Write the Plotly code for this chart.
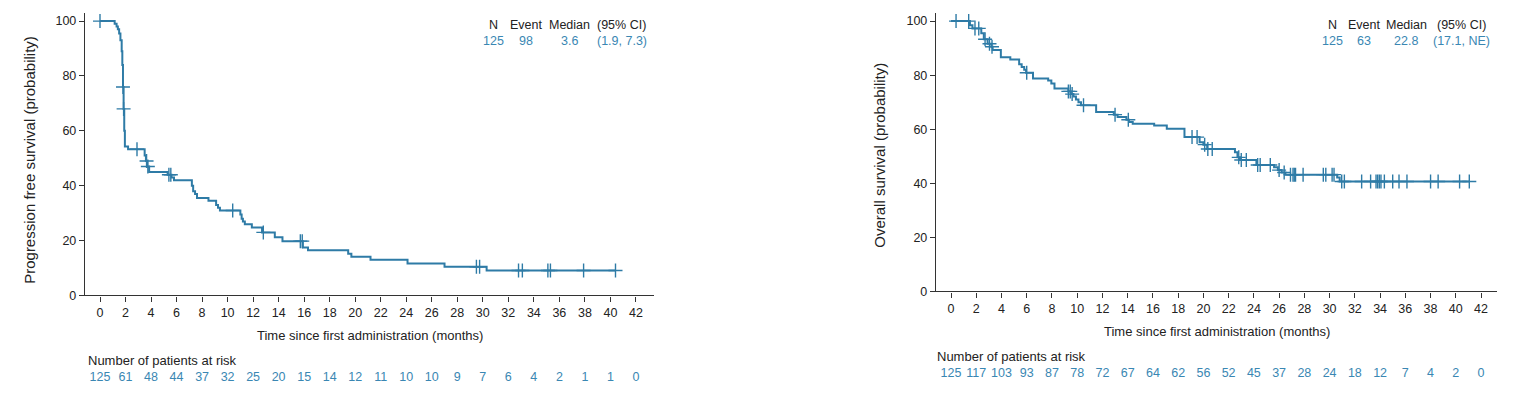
import numpy as np
import plotly.graph_objects as go

# ---------------- data ----------------
x_ticks = list(range(0, 44, 2))
y_ticks = [0, 20, 40, 60, 80, 100]

# Progression-free survival: step times (months) and survival after each step (%)
pfs_time = [0, 1.15, 1.3, 1.4, 1.5, 1.6, 1.7, 1.75, 1.8, 1.85, 1.9, 1.95, 2.2, 3.5, 3.6, 3.7, 3.85,
            5.3, 5.6, 5.8, 7.2, 7.3, 7.45, 7.6, 8.5, 9.1, 9.25, 9.4, 11.0, 11.1, 11.2, 11.35, 11.9,
            12.7, 13.7, 14.3, 15.9, 16.3, 19.45, 19.7, 21.2, 24.1, 27.0, 30.3, 40.4]
pfs_surv = [100, 99, 98, 97, 95.5, 93, 89, 84, 76, 68, 60, 54.3, 53.3, 51, 49, 47, 45,
            44, 43, 42, 40, 38, 37, 35.5, 34.5, 33, 32, 31, 29.5, 28, 27, 26, 24.8,
            23, 21.2, 19.8, 17.5, 16.5, 15.2, 14.1, 13.0, 11.7, 10.5, 9.1, 9.1]
pfs_censor = [0.0, 1.8, 1.85, 2.9, 3.65, 3.75, 5.4, 5.55, 10.4, 12.8, 15.7, 15.85,
              29.5, 29.75, 32.8, 33.1, 35.1, 35.3, 37.9, 40.4]

# Overall survival
os_time = [0, 1.5, 1.7, 2.4, 2.6, 2.9, 3.2, 3.3, 3.95, 4.7, 5.4, 5.6, 5.8, 5.95, 6.5, 7.7, 7.95,
           8.2, 9.3, 9.5, 9.7, 9.9, 10.1, 10.3, 11.5, 12.9, 13.2, 13.9, 14.1, 14.4, 16.1, 17.1,
           18.5, 19.7, 20.0, 20.3, 22.5, 22.7, 22.9, 24.2, 25.6, 25.9, 26.2, 26.5, 30.6, 30.8, 41.07]
os_surv = [100, 98.5, 97.3, 95.5, 93.3, 91.6, 90.5, 89.3, 86.6, 85.8, 84, 83, 82, 80.9, 78.8, 78, 76.9,
           75.1, 74, 73, 72.1, 71, 70, 68.9, 66.4, 65.4, 64.5, 63.5, 62.7, 62, 61.4, 60.2,
           57.1, 55.2, 54.3, 52.7, 51.5, 49.6, 48.6, 46.8, 45.9, 44.9, 44, 43.2, 42.2, 40.7, 40.7]
os_censor = [0.4, 1.4, 1.9, 2.2, 2.7, 3.05, 3.25, 6.0, 9.3, 9.45, 9.6, 10.5, 13.0, 14.05,
             19.1, 19.5, 20.1, 20.35, 20.7, 22.8, 23.0, 23.4, 24.3, 24.5, 25.3, 26.0, 26.4,
             26.9, 27.1, 27.2, 27.3, 27.9, 29.5, 29.7, 30.2, 30.35, 30.96, 31.17, 32.54, 33.25,
             33.68, 33.81, 33.94, 34.07, 34.34, 35.0, 35.5, 36.13, 38.0, 38.6, 40.3, 41.07]

risk_pfs = [125, 61, 48, 44, 37, 32, 25, 20, 15, 14, 12, 11, 10, 10, 9, 7, 6, 4, 2, 1, 1, 0]
risk_os = [125, 117, 103, 93, 87, 78, 72, 67, 64, 62, 56, 52, 45, 37, 28, 24, 18, 12, 7, 4, 2, 0]

legend_header = ["N", "Event", "Median", "(95% CI)"]
pfs_summary = ["125", "98", "3.6", "(1.9, 7.3)"]
os_summary = ["125", "63", "22.8", "(17.1, NE)"]

# ---------------- styling ----------------
W = 1519
H = 405          # page height actually captured
REF_H = 396      # reference picture height
FONT = "Liberation Sans, Arial, sans-serif"
CURVE = "#2e7ba6"
BLUE_TXT = "#3a87b3"
DARK = "#222222"
AX = "#333333"


def px_x(p):
    return p / W


def px_y(p):
    # p is a y position measured on the reference picture
    return 1 - (p * H / REF_H) / H


def step_lookup(times, surv, t):
    idx = np.searchsorted(np.asarray(times), np.asarray(t), side="right") - 1
    return np.asarray(surv)[idx]


fig = go.Figure()

panels = [
    dict(time=pfs_time, surv=pfs_surv, cens=pfs_censor, risk=risk_pfs, summary=pfs_summary,
         xa="x", ya="y", xr="x3", yr="y3",
         ytitle="Progression free survival (probability)"),
    dict(time=os_time, surv=os_surv, cens=os_censor, risk=risk_os, summary=os_summary,
         xa="x2", ya="y2", xr="x4", yr="y4",
         ytitle="Overall survival (probability)"),
]

for p in panels:
    fig.add_trace(go.Scatter(x=p["time"], y=p["surv"], mode="lines", line_shape="hv",
                             line=dict(color=CURVE, width=2), xaxis=p["xa"], yaxis=p["ya"],
                             showlegend=False, hoverinfo="skip"))
    cy = step_lookup(p["time"], p["surv"], p["cens"])
    fig.add_trace(go.Scatter(x=p["cens"], y=cy, mode="markers",
                             marker=dict(symbol="cross-thin-open", size=10, color=CURVE,
                                         line=dict(color=CURVE, width=1.4)),
                             xaxis=p["xa"], yaxis=p["ya"], showlegend=False, hoverinfo="skip"))
    fig.add_trace(go.Scatter(x=x_ticks, y=[0] * len(x_ticks), mode="text",
                             text=[str(v) for v in p["risk"]],
                             textfont=dict(family=FONT, size=12.5, color=BLUE_TXT),
                             textposition="middle center",
                             xaxis=p["xr"], yaxis=p["yr"], showlegend=False, hoverinfo="skip"))

axis_common = dict(showline=True, linecolor=AX, linewidth=1.4, ticks="outside", ticklen=5,
                   tickwidth=1.2, tickcolor=AX, showgrid=False, zeroline=False,
                   tickfont=dict(family=FONT, size=12.5, color=DARK))

# panel geometry (pixels on the reference picture)
L = dict(x0=85, x1=654, y_top=13, y_bot=294, y100=21)
R = dict(x0=936, x1=1497, y_top=13, y_bot=290, y100=21)


def xr_for(g, zero_px, per_month):
    return [(g["x0"] - zero_px) / per_month, (g["x1"] - zero_px) / per_month]


def yr_for(g):
    frac = (g["y_bot"] - g["y100"]) / (g["y_bot"] - g["y_top"])
    return [0, 100 / frac]


xl_range = xr_for(L, 100, 12.76)
xr_range = xr_for(R, 951, 12.62)

fig.update_layout(
    width=W, height=H, margin=dict(l=0, r=0, t=0, b=0),
    paper_bgcolor="white", plot_bgcolor="white",
    font=dict(family=FONT, color=DARK),
    xaxis=dict(domain=[px_x(L["x0"]), px_x(L["x1"])], range=xl_range, tickvals=x_ticks,
               anchor="y", **axis_common),
    yaxis=dict(domain=[px_y(L["y_bot"]), px_y(L["y_top"])], range=yr_for(L), tickvals=y_ticks,
               anchor="x", **axis_common),
    xaxis2=dict(domain=[px_x(R["x0"]), px_x(R["x1"])], range=xr_range, tickvals=x_ticks,
                anchor="y2", **axis_common),
    yaxis2=dict(domain=[px_y(R["y_bot"]), px_y(R["y_top"])], range=yr_for(R), tickvals=y_ticks,
                anchor="x2", **axis_common),
    xaxis3=dict(domain=[px_x(L["x0"]), px_x(L["x1"])], range=xl_range, visible=False, anchor="y3"),
    yaxis3=dict(domain=[px_y(386), px_y(366)], range=[-1, 1], visible=False, anchor="x3"),
    xaxis4=dict(domain=[px_x(R["x0"]), px_x(R["x1"])], range=xr_range, visible=False, anchor="y4"),
    yaxis4=dict(domain=[px_y(382), px_y(362)], range=[-1, 1], visible=False, anchor="x4"),
)

ann = []


def text_ann(txt, x, y, size, color=DARK, xanchor="center", angle=0):
    ann.append(dict(text=txt, x=px_x(x), y=px_y(y), xref="paper", yref="paper",
                    xanchor=xanchor, yanchor="middle", showarrow=False, textangle=angle,
                    font=dict(family=FONT, size=size, color=color)))


# axis titles
text_ann("Time since first administration (months)", (L["x0"] + L["x1"]) / 2, 334, 13)
text_ann("Time since first administration (months)", (R["x0"] + R["x1"]) / 2, 330, 13)
text_ann(panels[0]["ytitle"], 29.5, 159.5, 15, angle=-90)
text_ann(panels[1]["ytitle"], 880, 155, 15, angle=-90)

# at-risk labels
text_ann("Number of patients at risk", 86, 359, 13, xanchor="left")
text_ann("Number of patients at risk", 935, 355, 13, xanchor="left")

# summary tables
left_cols = [494, 526, 569, 621.5]
right_cols = [1332, 1364, 1406, 1461]
for cols, summ in [(left_cols, pfs_summary), (right_cols, os_summary)]:
    for cx, h, v in zip(cols, legend_header, summ):
        text_ann(h, cx, 25, 12.5)
        text_ann(v, cx, 41, 12.5, color=BLUE_TXT)

fig.update_layout(annotations=ann)

fig.write_html("out.html", config={"displayModeBar": False},
               post_script="document.body.style.margin='0';document.body.style.overflow='hidden';")
